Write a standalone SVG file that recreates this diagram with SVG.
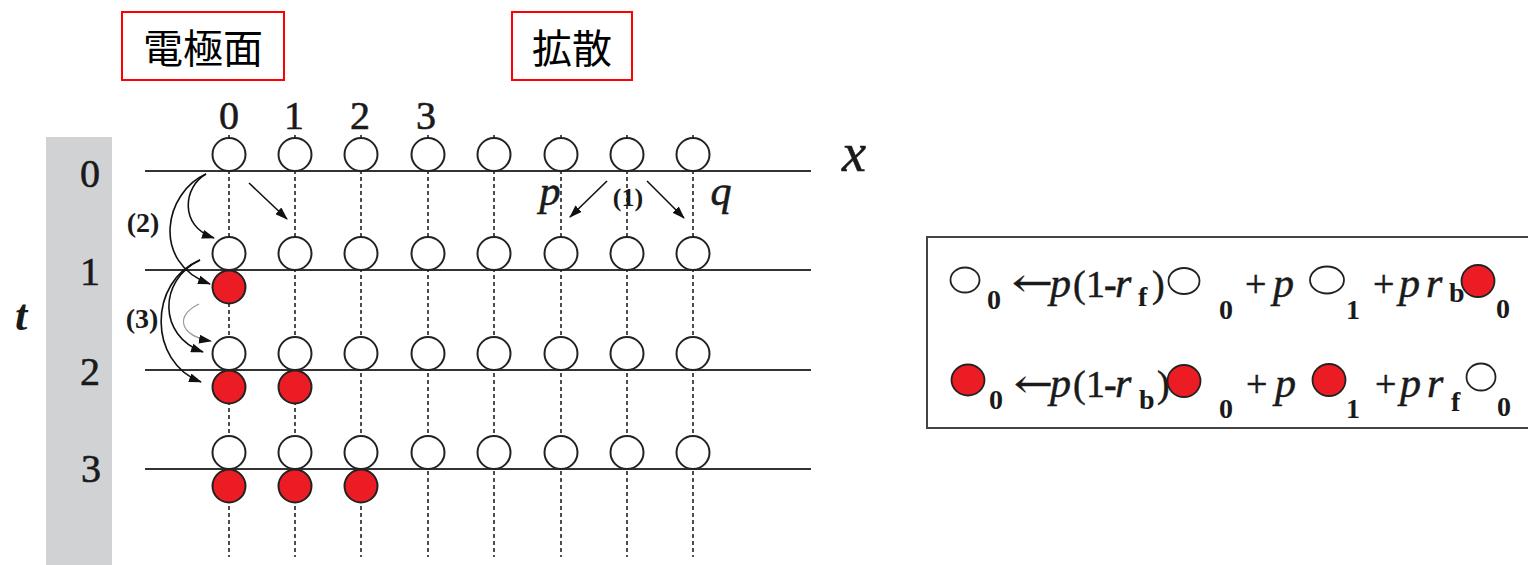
<svg xmlns="http://www.w3.org/2000/svg" width="1528" height="565" viewBox="0 0 1528 565">
<style>
.ser{font-family:"Liberation Serif","Times New Roman",serif;fill:#1a1a1a}
.it{font-style:italic}
.lab{stroke:#1a1a1a;stroke-width:0.6}
.hl{stroke:#333;stroke-width:2}
.vd{stroke:#222;stroke-width:1.6;stroke-dasharray:4 3}
.wc{fill:#fff;stroke:#222;stroke-width:2}
.rc{fill:#ec1c24;stroke:#222;stroke-width:2}
.ew{fill:#fff;stroke:#222;stroke-width:1.8}
.er{fill:#ec1c24;stroke:#222;stroke-width:1.8}
.arr{fill:none;stroke:#111;stroke-width:1.6}
.cjk{font-family:"Noto Sans CJK JP","Noto Sans CJK SC",sans-serif;font-size:40px;fill:#000}
.sub{font-size:28px;font-weight:bold}
.main{font-size:38px;stroke:#1a1a1a;stroke-width:0.5}
.var{font-size:42px;font-style:italic;stroke:#1a1a1a;stroke-width:0.5}
</style>
<defs>
<marker id="ah" markerWidth="13" markerHeight="9" refX="12" refY="4.5" orient="auto" markerUnits="userSpaceOnUse"><path d="M0,0 L13,4.5 L0,9 z" fill="#111"/></marker>
</defs>
<rect width="1528" height="565" fill="#fff"/>

<g id="title-electrode">
<rect x="122" y="12" width="162" height="68" fill="#fff" stroke="#f00" stroke-width="2"/>
<text class="cjk" x="203" y="63" text-anchor="middle">電極面</text>
</g>
<g id="title-diffusion">
<rect x="512" y="12" width="120" height="68" fill="#fff" stroke="#f00" stroke-width="2"/>
<text class="cjk" x="572" y="63" text-anchor="middle">拡散</text>
</g>

<g id="time-axis">
<rect x="46" y="137" width="66" height="428" fill="#d1d2d4"/>
<text class="ser lab" font-size="40" x="90" y="187" text-anchor="middle">0</text>
<text class="ser lab" font-size="40" x="90" y="285" text-anchor="middle">1</text>
<text class="ser lab" font-size="40" x="90" y="385" text-anchor="middle">2</text>
<text class="ser lab" font-size="40" x="91" y="482" text-anchor="middle">3</text>
<text class="ser it" font-size="44" font-weight="bold" x="21" y="330" text-anchor="middle">t</text>
</g>

<g id="space-axis">
<text class="ser lab" font-size="40" x="229" y="129" text-anchor="middle">0</text>
<text class="ser lab" font-size="40" x="294" y="129" text-anchor="middle">1</text>
<text class="ser lab" font-size="40" x="360" y="129" text-anchor="middle">2</text>
<text class="ser lab" font-size="40" x="426" y="129" text-anchor="middle">3</text>
<text class="ser it lab" font-size="54" x="854" y="171" text-anchor="middle">x</text>
</g>

<g id="grid">
<g id="columns">
<line class="vd" x1="229" y1="135" x2="229" y2="557"/>
<line class="vd" x1="295" y1="135" x2="295" y2="557"/>
<line class="vd" x1="361" y1="135" x2="361" y2="557"/>
<line class="vd" x1="428" y1="135" x2="428" y2="557"/>
<line class="vd" x1="494" y1="135" x2="494" y2="557"/>
<line class="vd" x1="561" y1="135" x2="561" y2="557"/>
<line class="vd" x1="627" y1="135" x2="627" y2="557"/>
<line class="vd" x1="693" y1="135" x2="693" y2="557"/>
</g>
<line class="hl" x1="145" y1="171" x2="811" y2="171"/>
<line class="hl" x1="145" y1="270" x2="811" y2="270"/>
<line class="hl" x1="145" y1="370" x2="811" y2="370"/>
<line class="hl" x1="145" y1="469" x2="811" y2="469"/>
</g>

<g id="row0">
<circle class="wc" cx="229" cy="154.5" r="16.5"/><circle class="wc" cx="295" cy="154.5" r="16.5"/><circle class="wc" cx="361" cy="154.5" r="16.5"/><circle class="wc" cx="428" cy="154.5" r="16.5"/><circle class="wc" cx="494" cy="154.5" r="16.5"/><circle class="wc" cx="561" cy="154.5" r="16.5"/><circle class="wc" cx="627" cy="154.5" r="16.5"/><circle class="wc" cx="693" cy="154.5" r="16.5"/>
</g>
<g id="row1">
<circle class="wc" cx="229" cy="253.5" r="16.5"/><circle class="wc" cx="295" cy="253.5" r="16.5"/><circle class="wc" cx="361" cy="253.5" r="16.5"/><circle class="wc" cx="428" cy="253.5" r="16.5"/><circle class="wc" cx="494" cy="253.5" r="16.5"/><circle class="wc" cx="561" cy="253.5" r="16.5"/><circle class="wc" cx="627" cy="253.5" r="16.5"/><circle class="wc" cx="693" cy="253.5" r="16.5"/>
<circle class="rc" cx="229" cy="287" r="16.5"/>
</g>
<g id="row2">
<circle class="wc" cx="229" cy="353.5" r="16.5"/><circle class="wc" cx="295" cy="353.5" r="16.5"/><circle class="wc" cx="361" cy="353.5" r="16.5"/><circle class="wc" cx="428" cy="353.5" r="16.5"/><circle class="wc" cx="494" cy="353.5" r="16.5"/><circle class="wc" cx="561" cy="353.5" r="16.5"/><circle class="wc" cx="627" cy="353.5" r="16.5"/><circle class="wc" cx="693" cy="353.5" r="16.5"/>
<circle class="rc" cx="229" cy="387" r="16.5"/><circle class="rc" cx="295" cy="387" r="16.5"/>
</g>
<g id="row3">
<circle class="wc" cx="229" cy="452.5" r="16.5"/><circle class="wc" cx="295" cy="452.5" r="16.5"/><circle class="wc" cx="361" cy="452.5" r="16.5"/><circle class="wc" cx="428" cy="452.5" r="16.5"/><circle class="wc" cx="494" cy="452.5" r="16.5"/><circle class="wc" cx="561" cy="452.5" r="16.5"/><circle class="wc" cx="627" cy="452.5" r="16.5"/><circle class="wc" cx="693" cy="452.5" r="16.5"/>
<circle class="rc" cx="229" cy="486" r="16.5"/><circle class="rc" cx="295" cy="486" r="16.5"/><circle class="rc" cx="361" cy="486" r="16.5"/>
</g>

<g id="connectors">
<path class="arr" d="M206,174 C184,186 178,226 214,238" marker-end="url(#ah)"/>
<path class="arr" d="M206,174 C165,192 150,262 210,284" marker-end="url(#ah)"/>
<path class="arr" d="M249,183 L287,219" marker-end="url(#ah)"/>
<path class="arr" d="M200,260 C158,280 158,336 203,352" marker-end="url(#ah)"/>
<path class="arr" d="M200,260 C148,282 148,362 201,382" marker-end="url(#ah)"/>
<path d="M199,304 C174,316 180,336 211,341" fill="none" stroke="#999" stroke-width="1.2" marker-end="url(#ah)"/>
<path class="arr" d="M607,181 L570,217" marker-end="url(#ah)"/>
<path class="arr" d="M647,181 L684,218" marker-end="url(#ah)"/>
</g>

<g id="arrow-labels">
<text class="ser" font-size="28" font-weight="bold" x="143" y="232" text-anchor="middle">(2)</text>
<text class="ser" font-size="28" font-weight="bold" x="142" y="328" text-anchor="middle">(3)</text>
<text class="ser" font-size="26" font-weight="bold" x="628" y="206" text-anchor="middle">(1)</text>
<text class="ser it lab" font-size="42" x="550" y="205" text-anchor="middle">p</text>
<text class="ser it lab" font-size="42" x="721" y="205" text-anchor="middle">q</text>
</g>

<g id="equations">
<rect x="927" y="237" width="620" height="191" fill="#fff" stroke="#444" stroke-width="2"/>
<g id="eq1" class="ser">
<ellipse class="ew" cx="965" cy="280" rx="14.5" ry="12.5"/>
<text class="sub" x="987" y="309">0</text>
<text class="main" font-family="DejaVu Serif" x="1012" y="296" textLength="41" lengthAdjust="spacingAndGlyphs">←</text>
<text class="var" x="1050" y="297">p</text>
<text class="main" x="1073" y="297">(</text>
<text class="main" x="1086" y="297">1</text>
<text class="main" font-weight="bold" x="1104" y="297">-</text>
<text class="var" x="1115" y="297">r</text>
<text class="sub" font-size="26" x="1138" y="306">f</text>
<text class="main" x="1152" y="297">)</text>
<ellipse class="ew" cx="1184" cy="281" rx="15.5" ry="13"/>
<text class="sub" x="1219" y="319">0</text>
<text class="main" x="1245" y="297">+</text>
<text class="var" x="1273" y="297">p</text>
<ellipse class="ew" cx="1327" cy="280" rx="17" ry="13.5"/>
<text class="sub" x="1346" y="319">1</text>
<text class="main" x="1373" y="297">+</text>
<text class="var" x="1399" y="297">p</text>
<text class="var" x="1426" y="297">r</text>
<text class="sub" font-size="20" x="1449" y="302">b</text>
<ellipse class="er" cx="1478" cy="281" rx="16.5" ry="16"/>
<text class="sub" x="1496" y="318">0</text>
</g>
<g id="eq2" class="ser">
<ellipse class="er" cx="968" cy="380" rx="16.5" ry="15.5"/>
<text class="sub" x="989" y="409">0</text>
<text class="main" font-family="DejaVu Serif" x="1014" y="397" textLength="39" lengthAdjust="spacingAndGlyphs">←</text>
<text class="var" x="1050" y="397">p</text>
<text class="main" x="1073" y="397">(</text>
<text class="main" x="1086" y="397">1</text>
<text class="main" font-weight="bold" x="1104" y="397">-</text>
<text class="var" x="1115" y="397">r</text>
<text class="sub" x="1139" y="409">b</text>
<text class="main" x="1157" y="397">)</text>
<ellipse class="er" cx="1184" cy="381" rx="16.5" ry="16"/>
<text class="sub" x="1219" y="418">0</text>
<text class="main" x="1246" y="397">+</text>
<text class="var" x="1275" y="397">p</text>
<ellipse class="er" cx="1329" cy="380" rx="16.5" ry="16"/>
<text class="sub" x="1346" y="418">1</text>
<text class="main" x="1375" y="397">+</text>
<text class="var" x="1400" y="397">p</text>
<text class="var" x="1427" y="397">r</text>
<text class="sub" x="1451" y="411">f</text>
<ellipse class="ew" cx="1481" cy="377" rx="14.5" ry="13.5"/>
<text class="sub" x="1497" y="416">0</text>
</g>
</g>
</svg>
